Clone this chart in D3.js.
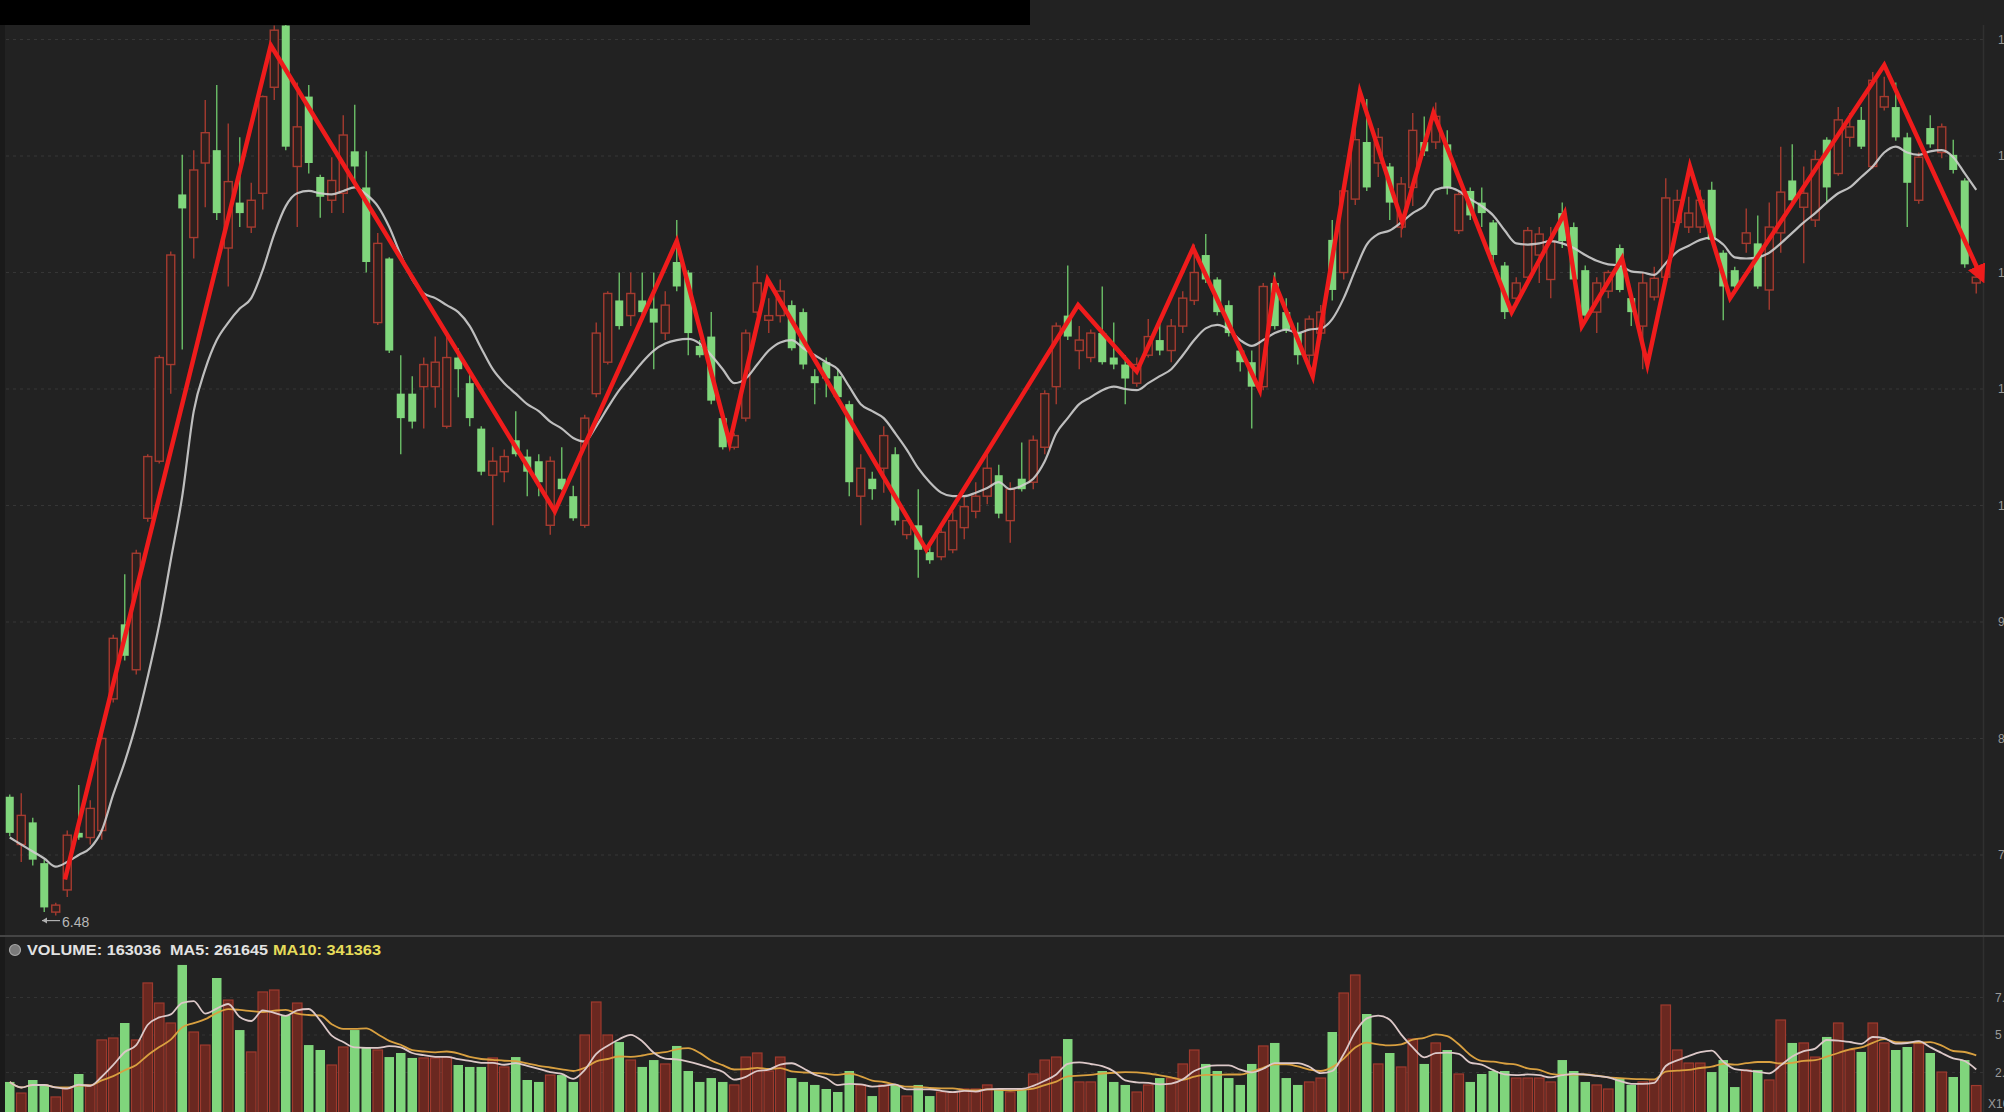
<!DOCTYPE html>
<html><head><meta charset="utf-8">
<script src="https://cdn.jsdelivr.net/npm/d3@7"></script>
<style>html,body{margin:0;padding:0;background:#222;overflow:hidden}svg{display:block}</style>
</head><body>
<svg id="c" width="2004" height="1112"></svg>
<script>
// ---- data ----
const opens = [7.50,7.09,7.28,6.93,6.51,6.70,7.19,7.15,7.21,8.34,
8.98,8.59,9.89,10.38,11.21,12.67,12.30,12.94,13.05,12.21,
12.60,12.39,12.68,13.59,14.12,12.91,13.51,12.82,12.62,12.68,
13.04,12.73,11.57,12.12,10.96,10.96,11.02,11.02,10.68,11.27,
11.05,10.66,10.26,10.29,10.56,10.42,10.38,9.83,10.23,10.08,
9.83,10.96,11.23,11.76,11.63,11.76,11.69,11.48,12.09,12.00,
11.37,11.45,10.75,10.50,10.75,11.66,11.59,11.63,11.72,11.66,
11.11,11.23,11.11,10.87,10.08,10.23,10.32,10.44,9.75,9.83,
9.60,9.56,9.62,9.81,9.95,10.08,10.26,9.87,10.23,10.20,
10.50,11.02,11.63,11.33,11.27,11.48,11.27,11.21,11.05,11.29,
11.42,11.33,11.54,11.76,12.15,11.94,11.72,11.33,11.23,11.02,
11.91,11.66,11.48,11.29,11.48,12.28,12.00,12.63,13.12,12.94,
12.91,12.39,12.73,13.12,13.12,13.10,12.36,12.70,12.60,12.43,
12.06,11.78,11.96,12.15,11.94,12.51,12.39,12.02,11.66,11.84,
12.21,11.78,11.54,11.79,11.96,12.43,12.39,12.39,12.71,12.17,
12.02,12.25,12.25,11.85,12.34,12.79,12.56,12.45,13.14,12.85,
13.16,13.31,12.91,13.42,13.42,13.16,12.62,13.24,13.03,13.01,
12.79,11.91];
const highs = [7.52,7.53,7.32,6.96,6.59,7.21,7.60,7.47,8.03,8.89,
9.41,9.62,10.44,11.29,12.18,13.01,13.05,13.48,13.61,13.28,
13.16,12.77,13.52,14.12,14.19,13.63,13.61,12.84,12.99,13.35,
13.44,13.04,12.34,12.13,11.29,11.11,11.27,11.45,11.48,11.35,
11.15,10.68,10.50,10.48,10.81,10.48,10.44,10.42,10.50,10.17,
10.78,11.57,11.84,12.00,12.00,12.00,12.00,11.84,12.45,12.02,
11.42,11.66,10.78,10.62,11.51,12.06,11.78,11.94,11.76,11.69,
11.17,11.27,11.17,10.90,10.44,10.29,10.68,10.50,9.93,10.14,
9.65,9.83,9.95,10.08,10.20,10.44,10.35,10.20,10.54,10.60,
10.99,11.57,12.06,11.54,11.51,11.88,11.57,11.29,11.27,11.60,
11.57,11.60,11.84,12.24,12.33,11.96,11.76,11.35,11.33,11.91,
12.00,11.78,11.57,11.63,11.72,12.45,12.73,13.35,13.49,13.24,
12.94,12.82,13.37,13.34,13.46,13.22,12.70,12.73,12.73,12.45,
12.09,11.96,12.39,12.39,12.39,12.60,12.43,12.06,11.96,12.02,
12.24,11.84,12.00,12.05,12.81,12.71,12.65,12.71,12.78,12.19,
12.05,12.55,12.49,12.60,13.08,13.10,12.91,13.05,13.16,13.42,
13.37,13.42,13.72,13.68,13.63,13.20,13.03,13.35,13.28,13.14,
12.81,12.02];
const lows = [7.16,6.94,6.91,6.51,6.48,6.64,7.13,7.09,7.13,8.31,
8.67,8.55,9.86,10.36,10.96,11.34,12.12,12.56,12.45,11.88,
12.39,12.34,12.54,13.48,13.05,12.39,12.85,12.47,12.51,12.51,
12.73,12.00,11.55,11.31,10.44,10.66,10.66,10.84,10.66,10.93,
10.68,10.26,9.83,10.20,10.42,10.08,10.08,9.75,10.13,9.87,
9.81,10.93,11.21,11.51,11.54,11.64,11.17,11.42,11.84,11.29,
11.27,10.87,10.48,10.48,10.72,11.63,11.48,11.57,11.33,11.17,
10.87,10.93,10.90,10.08,9.83,10.05,10.11,9.83,9.71,9.38,
9.50,9.53,9.59,9.71,9.89,10.01,9.89,9.68,10.12,10.14,
10.44,10.87,11.42,11.17,11.23,11.21,11.17,10.87,11.02,11.27,
11.29,11.23,11.48,11.72,11.91,11.63,11.45,11.15,10.66,10.99,
11.51,11.48,11.21,11.17,11.42,11.76,11.94,12.58,12.70,12.82,
12.45,12.30,12.57,13.00,13.06,12.67,12.33,12.45,12.39,12.09,
11.60,11.72,11.94,11.91,11.78,12.21,11.91,11.57,11.48,11.78,
11.83,11.54,11.17,11.76,11.94,12.34,12.34,12.34,12.26,11.59,
11.82,12.17,11.86,11.68,12.17,12.59,12.08,12.39,12.60,12.83,
13.08,13.06,12.89,13.39,13.13,12.39,12.59,13.07,12.98,12.85,
12.04,11.82];
const closes = [7.19,7.34,6.96,6.55,6.57,7.17,7.15,7.40,8.00,8.86,
8.71,9.59,10.42,11.27,12.15,12.55,12.88,13.20,12.51,12.78,
12.51,12.62,13.51,14.08,13.08,13.25,12.94,12.65,12.79,13.18,
12.91,12.09,12.25,11.33,10.75,10.72,11.21,11.23,11.27,11.17,
10.75,10.29,10.38,10.42,10.44,10.29,10.20,10.38,10.14,9.89,
10.75,11.48,11.82,11.54,11.82,11.66,11.57,11.72,11.88,11.48,
11.29,10.90,10.50,10.60,11.48,11.91,11.63,11.84,11.35,11.21,
11.05,11.09,10.93,10.20,10.32,10.14,10.60,9.87,9.87,9.62,
9.53,9.77,9.87,9.99,10.08,10.32,9.93,10.14,10.14,10.56,
10.96,11.54,11.45,11.42,11.48,11.23,11.21,11.09,11.21,11.45,
11.33,11.54,11.78,12.00,11.94,11.66,11.48,11.23,11.02,11.88,
11.54,11.51,11.29,11.60,11.66,11.85,12.70,13.14,12.73,13.16,
12.60,12.76,13.22,13.04,13.34,12.73,12.67,12.49,12.51,12.15,
11.66,11.91,12.36,12.33,12.27,12.27,11.94,11.63,11.91,12.00,
11.85,11.66,11.91,11.95,12.64,12.62,12.51,12.62,12.28,11.88,
11.88,12.34,11.88,12.39,12.69,12.62,12.68,12.97,12.73,13.31,
13.25,13.08,13.65,13.51,13.16,12.77,12.99,13.10,13.25,12.88,
12.07,11.96];
const priceMA = [7.15,7.09,7.03,6.97,6.90,6.94,7.00,7.06,7.21,7.52,
7.80,8.13,8.53,8.98,9.53,10.08,10.81,11.17,11.42,11.57,
11.69,11.78,12.02,12.33,12.57,12.68,12.70,12.68,12.67,12.70,
12.73,12.67,12.57,12.39,12.15,11.94,11.82,11.78,11.72,11.66,
11.54,11.35,11.17,11.05,10.96,10.87,10.81,10.72,10.66,10.58,
10.55,10.68,10.84,10.99,11.11,11.23,11.33,11.39,11.42,11.43,
11.39,11.29,11.17,11.05,11.09,11.21,11.33,11.40,11.42,11.35,
11.29,11.23,11.17,11.02,10.87,10.81,10.75,10.62,10.48,10.32,
10.20,10.11,10.08,10.08,10.11,10.15,10.20,10.14,10.17,10.23,
10.38,10.62,10.75,10.87,10.93,10.99,11.02,11.00,10.99,11.05,
11.11,11.17,11.29,11.42,11.52,11.55,11.51,11.42,11.37,11.42,
11.48,11.51,11.48,11.51,11.52,11.60,11.78,12.02,12.24,12.33,
12.36,12.43,12.51,12.57,12.71,12.73,12.70,12.63,12.57,12.49,
12.36,12.25,12.24,12.25,12.27,12.25,12.21,12.15,12.10,12.07,
12.06,12.01,12.00,11.98,12.08,12.18,12.23,12.28,12.30,12.24,
12.13,12.12,12.13,12.17,12.25,12.34,12.43,12.51,12.60,12.68,
12.73,12.82,12.91,13.03,13.08,13.03,13.01,13.04,13.05,12.99,
12.85,12.71];
const volumes = [187000,113000,200000,167000,87000,147000,240000,167000,467000,480000,
580000,467000,847000,713000,580000,967000,520000,433000,880000,733000,
533000,387000,787000,800000,633000,713000,433000,400000,300000,420000,
533000,420000,400000,353000,380000,347000,347000,347000,353000,300000,
287000,287000,347000,287000,353000,200000,187000,233000,233000,187000,
500000,720000,500000,453000,333000,287000,333000,307000,427000,260000,
187000,213000,187000,167000,353000,380000,260000,353000,213000,187000,
167000,140000,120000,260000,167000,93000,167000,167000,93000,167000,
93000,120000,120000,140000,140000,167000,140000,120000,140000,240000,
333000,353000,473000,187000,187000,260000,187000,167000,120000,167000,
213000,213000,307000,400000,307000,260000,213000,167000,307000,427000,
447000,213000,167000,187000,213000,520000,780000,900000,640000,307000,
380000,287000,473000,307000,447000,400000,240000,187000,240000,260000,
260000,213000,213000,213000,187000,333000,260000,187000,167000,140000,
213000,167000,187000,200000,700000,400000,313000,313000,253000,333000,
153000,267000,267000,200000,600000,447000,447000,353000,487000,580000,
400000,387000,580000,447000,400000,420000,447000,380000,253000,220000,
333000,163036];
// zig-zag annotation: candle position (fractional index) and price
const zigIdx = [4.8,22.7,47.4,58.0,62.6,65.9,79.7,92.9,98.0,102.9,108.7,110.0,113.3,117.4,121.1,123.8,130.6,135.2,136.7,140.2,142.4,146.1,149.6,163.0,171.5];
const zigPrice = [6.79,13.95,9.95,12.27,10.54,11.94,9.62,11.72,11.15,12.21,10.99,11.91,11.11,13.55,12.43,13.37,11.66,12.51,11.54,12.12,11.21,12.91,11.78,13.78,11.95];
const priceTicks = [7,8,9,10,11,12,13,14];
const volTicks = [250000,500000,750000];
const volTickLabels = ["2.5","5","7.5"];
const lowLabel = "6.48";
const volHeader = {vol:"VOLUME: 163036", ma5:"MA5: 261645", ma10:"MA10: 341363"};

// ---- drawing ----
const N = opens.length;
const W = 2004, H = 1112;
const svg = d3.select('#c');
svg.append('rect').attr('width',W).attr('height',H).attr('fill','#222222');
svg.append('rect').attr('x',0).attr('y',0).attr('width',5).attr('height',H).attr('fill','#1a1a1a');

const x = d3.scaleBand().domain(d3.range(N)).range([4,1982]);
const step = x.step();
const cx = i => x(i) + step/2;
const xIdx = d3.scaleLinear().domain([0,N-1]).range([cx(0),cx(N-1)]);
const y = d3.scaleLinear().domain([7,14]).range([855,39.5]);
const vy = d3.scaleLinear().domain([0,750000]).range([1110,997.5]);
const bodyW = 8, volW = 9.5;

// grid
const g0 = svg.append('g');
g0.selectAll('line.pg').data(priceTicks).join('line')
  .attr('x1',6).attr('x2',1983).attr('y1',d=>y(d)).attr('y2',d=>y(d))
  .attr('stroke','#363636').attr('stroke-width',1).attr('stroke-dasharray','3,4');
g0.selectAll('line.vg').data(volTicks).join('line').attr('class','vg')
  .attr('x1',6).attr('x2',1983).attr('y1',d=>vy(d)).attr('y2',d=>vy(d))
  .attr('stroke','#333').attr('stroke-width',1).attr('stroke-dasharray','3,4');

// right axis line and labels (mostly clipped by window edge)
svg.append('line').attr('x1',1983.5).attr('x2',1983.5).attr('y1',25).attr('y2',H)
  .attr('stroke','#303030').attr('stroke-width',1.5);
svg.selectAll('text.pl').data(priceTicks).join('text').attr('class','pl')
  .attr('x',1998).attr('y',d=>y(d)+4).attr('fill','#9a9a9a')
  .attr('font-family','Liberation Sans, Arial, sans-serif').attr('font-size',12)
  .text(d=>d.toFixed(2));
svg.selectAll('text.vl').data(volTicks).join('text').attr('class','vl')
  .attr('x',1995).attr('y',(d)=>vy(d)+4).attr('fill','#9a9a9a')
  .attr('font-family','Liberation Sans, Arial, sans-serif').attr('font-size',12)
  .text((d,i)=>volTickLabels[i]);
svg.append('text').attr('x',1988).attr('y',1108).attr('fill','#9a9a9a')
  .attr('font-family','Liberation Sans, Arial, sans-serif').attr('font-size',12).text('X10');

// candles
const up = i => closes[i] >= opens[i];
const RED = '#a53b30', REDFILL = '#2f201e', GREEN = '#80d67c', GWICK = '#6cbf68';
const cg = svg.append('g');
const idx = d3.range(N);
cg.selectAll('line.w').data(idx).join('line')
  .attr('x1',cx).attr('x2',cx).attr('y1',i=>y(highs[i])).attr('y2',i=>y(lows[i]))
  .attr('stroke',i=>up(i)?RED:GWICK).attr('stroke-width',1.4);
cg.selectAll('rect.b').data(idx).join('rect')
  .attr('x',i=>cx(i)-bodyW/2).attr('width',bodyW)
  .attr('y',i=>y(Math.max(opens[i],closes[i])))
  .attr('height',i=>Math.max(1.5, y(Math.min(opens[i],closes[i]))-y(Math.max(opens[i],closes[i]))))
  .attr('fill',i=>up(i)?REDFILL:GREEN)
  .attr('stroke',i=>up(i)?RED:'none').attr('stroke-width',1.4);

// price MA line
svg.append('path').datum(priceMA)
  .attr('d',d3.line().x((d,i)=>cx(i)).y(d=>y(d)).curve(d3.curveMonotoneX))
  .attr('fill','none').attr('stroke','#cfcfcf').attr('stroke-width',2.2).attr('opacity',0.9);

// low label
svg.append('line').attr('x1',42).attr('x2',60).attr('y1',y(6.48)+5).attr('y2',y(6.48)+5)
  .attr('stroke','#b0b0b0').attr('stroke-width',1.2);
svg.append('path').attr('d',`M42,${y(6.48)+5} l5,-3 v6 z`).attr('fill','#b0b0b0');
svg.append('text').attr('x',62).attr('y',y(6.48)+11).attr('fill','#b8b8b8')
  .attr('font-family','Liberation Sans Narrow, Liberation Sans, Arial, sans-serif').attr('font-size',14)
  .text(lowLabel);

// top black bar
svg.append('rect').attr('x',0).attr('y',0).attr('width',1030).attr('height',25).attr('fill','#000');

// separator
svg.append('rect').attr('x',0).attr('y',935).attr('width',W).attr('height',2).attr('fill','#454545');

// volume header
svg.append('circle').attr('cx',15).attr('cy',950).attr('r',5.5).attr('fill','#7a7a7a').attr('stroke','#a8a8a8').attr('stroke-width',1.2);
const hf = 'Liberation Sans Narrow, Liberation Sans, Arial, sans-serif';
svg.append('text').attr('x',27).attr('y',955).attr('fill','#e2e2e2').attr('font-family',hf).attr('font-weight','bold')
  .attr('font-size',14).attr('textLength',134).attr('lengthAdjust','spacingAndGlyphs').text(volHeader.vol);
svg.append('text').attr('x',170).attr('y',955).attr('fill','#e2e2e2').attr('font-family',hf).attr('font-weight','bold')
  .attr('font-size',14).attr('textLength',98).attr('lengthAdjust','spacingAndGlyphs').text(volHeader.ma5);
svg.append('text').attr('x',273).attr('y',955).attr('fill','#e6dc5a').attr('font-family',hf).attr('font-weight','bold')
  .attr('font-size',14).attr('textLength',108).attr('lengthAdjust','spacingAndGlyphs').text(volHeader.ma10);

// volume bars
const vg = svg.append('g');
vg.selectAll('rect').data(idx).join('rect')
  .attr('x',i=>cx(i)-volW/2).attr('width',volW)
  .attr('y',i=>vy(volumes[i])).attr('height',i=>H+2-vy(volumes[i]))
  .attr('fill',i=>up(i)?'#6a2820':'#80d57c')
  .attr('stroke',i=>up(i)?'#9e3a2e':'none').attr('stroke-width',1.2);

// volume MAs
const ma = n => volumes.map((v,i)=>d3.mean(volumes.slice(Math.max(0,i-n+1),i+1)));
const vline = d3.line().x((d,i)=>cx(i)).y(d=>vy(d)).curve(d3.curveMonotoneX);
svg.append('path').datum(ma(10)).attr('d',vline).attr('fill','none').attr('stroke','#d9a040').attr('stroke-width',1.8);
svg.append('path').datum(ma(5)).attr('d',vline).attr('fill','none').attr('stroke','#dcc8c8').attr('stroke-width',1.8);

// zig-zag annotation with arrow
const defs = svg.append('defs');
defs.append('marker').attr('id','arr').attr('viewBox','0 0 10 10').attr('refX',7).attr('refY',5)
  .attr('markerWidth',4.2).attr('markerHeight',4.2).attr('orient','auto').attr('markerUnits','strokeWidth')
  .append('path').attr('d','M0,0 L10,5 L0,10 z').attr('fill','#ef1c1c');
svg.append('path').datum(zigIdx.map((d,i)=>[xIdx(d), y(zigPrice[i])]))
  .attr('d',d3.line())
  .attr('fill','none').attr('stroke','#ef1c1c').attr('stroke-width',4.5)
  .attr('stroke-linejoin','miter').attr('stroke-miterlimit',20)
  .attr('marker-end','url(#arr)');
</script>
</body></html>
